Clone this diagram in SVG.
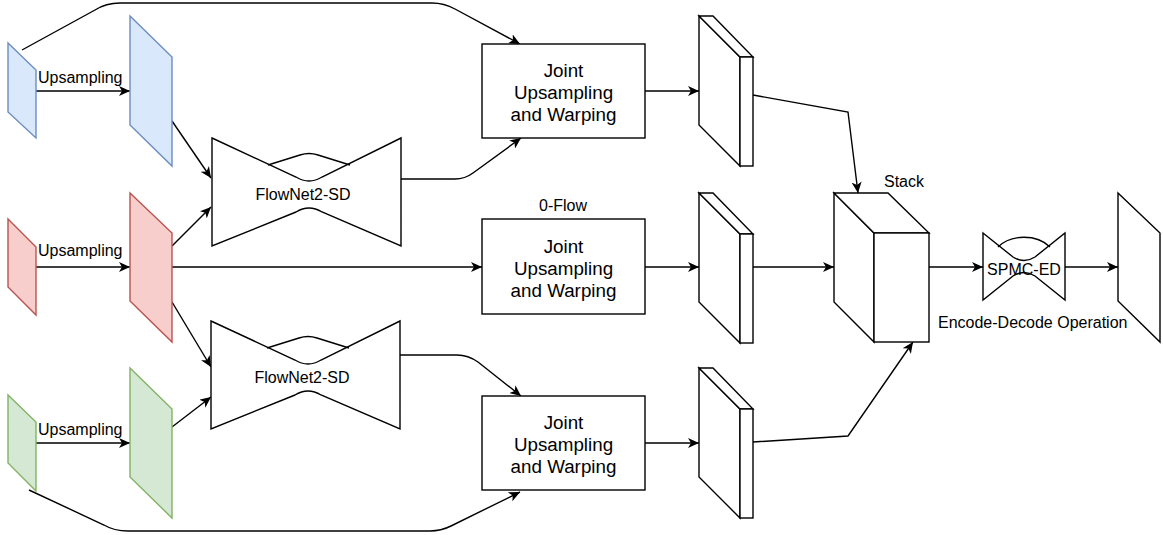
<svg xmlns="http://www.w3.org/2000/svg" width="1163" height="535" viewBox="0 0 1163 535">
  <style>
    .ln { fill: none; stroke: #000; stroke-width: 1.4; }
    .arr { marker-end: url(#ah); }
    .shp { fill: #fff; stroke: #000; stroke-width: 1.4; stroke-linejoin: miter; }
    .blue { fill: #dae8fc; stroke: #6c8ebf; stroke-width: 1.4; }
    .red { fill: #f8cecc; stroke: #b85450; stroke-width: 1.4; }
    .green { fill: #d5e8d4; stroke: #82b366; stroke-width: 1.4; }
    .t16 { font-family: "Liberation Sans", Arial, sans-serif; font-size: 16px; fill: #000; }
    .t19 { font-family: "Liberation Sans", Arial, sans-serif; font-size: 18.8px; fill: #000; text-anchor: middle; }
  </style>
  <defs>
    <marker id="ah" markerUnits="userSpaceOnUse" markerWidth="12" markerHeight="10" refX="11" refY="5" orient="auto">
      <path d="M0,0 L11,5 L0,10 L3,5 Z" fill="#000"/>
    </marker>
    <!-- encoder/decoder bow-tie with bump -->
    <g id="bowtie">
      <path class="shp" d="M0,0 L84,39 Q97,47 110,39 L189,0 L189,108 L110,74 Q97,66 84,74 L0,108 Z"/>
      <path class="ln" d="M56,27 L88,17 Q97,14 106,17 L138,27"/>
    </g>
  </defs>

  <!-- connectors -->
  <g id="connectors">
    <path class="ln" d="M22,50 L95,10 Q106,3 120,3 L432,3 Q444,3 455,9 L520,44" marker-end="url(#ah)"/>
    <path class="ln" d="M29,490 L104,525 Q114,531 128,531 L430,531 Q441,531 451,526 L520,492" marker-end="url(#ah)"/>
    <path class="ln arr" d="M36,91 L130,91"/>
    <path class="ln arr" d="M36,267 L130,267"/>
    <path class="ln arr" d="M36,443 L130,443"/>
    <path class="ln arr" d="M172,121 L211,178"/>
    <path class="ln arr" d="M172,246 L211,207"/>
    <path class="ln arr" d="M172,302 L211,367"/>
    <path class="ln arr" d="M172,427 L211,397"/>
    <path class="ln arr" d="M172,267 L482,267"/>
    <path class="ln arr" d="M401,179 L455,179 Q465,179 473,173 L521,138"/>
    <path class="ln arr" d="M400,355 L457,355 Q468,355 478,362 L521,396"/>
    <path class="ln arr" d="M645,91 L699,91"/>
    <path class="ln arr" d="M645,267 L699,267"/>
    <path class="ln arr" d="M645,443 L699,443"/>
    <path class="ln arr" d="M753,95 L848,112 L858,193"/>
    <path class="ln arr" d="M753,267 L834,267"/>
    <path class="ln arr" d="M753,442 L848,436 L913,342"/>
    <path class="ln arr" d="M929,267 L983,267"/>
    <path class="ln arr" d="M1065,267 L1118,267"/>
  </g>

  <!-- input frames -->
  <g id="blue-lr"><polygon class="blue" points="8,43 36,70 36,138 8,112"/></g>
  <g id="blue-hr"><polygon class="blue" points="130,16 172,57 172,166 130,125"/></g>
  <g id="red-lr"><polygon class="red" points="8,219 36,247 36,315 8,287"/></g>
  <g id="red-hr"><polygon class="red" points="130,193 172,233 172,342 130,301"/></g>
  <g id="green-lr"><polygon class="green" points="8,395 36,422 36,491 8,463"/></g>
  <g id="green-hr"><polygon class="green" points="130,368 172,409 172,518 130,477"/></g>

  <g id="up-labels">
    <text class="t16" x="38" y="83">Upsampling</text>
    <text class="t16" x="38" y="256">Upsampling</text>
    <text class="t16" x="38" y="435">Upsampling</text>
  </g>

  <!-- flow estimation -->
  <g id="flownet-top">
    <use href="#bowtie" x="212" y="138"/>
    <text class="t16" x="303" y="200" text-anchor="middle">FlowNet2-SD</text>
  </g>
  <g id="flownet-bottom">
    <use href="#bowtie" x="211" y="321"/>
    <text class="t16" x="302" y="383" text-anchor="middle">FlowNet2-SD</text>
  </g>

  <!-- warping blocks -->
  <g id="warp-top">
    <rect class="shp" x="482" y="44" width="163" height="94"/>
    <text class="t19" x="563.5" y="77">Joint</text>
    <text class="t19" x="563.5" y="99">Upsampling</text>
    <text class="t19" x="563.5" y="121">and Warping</text>
  </g>
  <g id="warp-mid">
    <text class="t16" x="563" y="211" text-anchor="middle">0-Flow</text>
    <rect class="shp" x="482" y="219" width="163" height="95"/>
    <text class="t19" x="563.5" y="253">Joint</text>
    <text class="t19" x="563.5" y="275">Upsampling</text>
    <text class="t19" x="563.5" y="297">and Warping</text>
  </g>
  <g id="warp-bottom">
    <rect class="shp" x="482" y="396" width="163" height="94"/>
    <text class="t19" x="563.5" y="429">Joint</text>
    <text class="t19" x="563.5" y="451">Upsampling</text>
    <text class="t19" x="563.5" y="473">and Warping</text>
  </g>

  <!-- warped frames (thin slabs) -->
  <g id="slab-top">
    <polygon class="shp" points="699,16 740,57 740,166 699,125"/>
    <polygon class="shp" points="699,16 713,16 753,57 740,57"/>
    <rect class="shp" x="740" y="57" width="13" height="109"/>
  </g>
  <g id="slab-mid">
    <polygon class="shp" points="699,193 740,234 740,343 699,302"/>
    <polygon class="shp" points="699,193 713,193 753,234 740,234"/>
    <rect class="shp" x="740" y="234" width="13" height="109"/>
  </g>
  <g id="slab-bottom">
    <polygon class="shp" points="699,368 740,409 740,518 699,477"/>
    <polygon class="shp" points="699,368 713,368 753,409 740,409"/>
    <rect class="shp" x="740" y="409" width="13" height="109"/>
  </g>

  <!-- stacked volume -->
  <g id="stack">
    <polygon class="shp" points="834,193 874,233 874,342 834,302"/>
    <polygon class="shp" points="834,193 888,193 929,233 874,233"/>
    <rect class="shp" x="874" y="233" width="55" height="109"/>
    <text class="t16" x="884" y="187">Stack</text>
  </g>

  <!-- encoder-decoder -->
  <g id="spmc-ed">
    <path class="shp" d="M983,233 L1013,257 Q1024,264 1035,257 L1065,233 L1065,300 L1035,276 Q1024,269 1013,276 L983,300 Z"/>
    <path class="ln" d="M998,247 C1011,234 1037,234 1050,247"/>
    <text class="t16" x="1024" y="275" text-anchor="middle">SPMC-ED</text>
    <text class="t16" x="938" y="328">Encode-Decode Operation</text>
  </g>

  <!-- output frame -->
  <g id="output"><polygon class="shp" points="1118,193 1160,233 1160,342 1118,301"/></g>
</svg>
